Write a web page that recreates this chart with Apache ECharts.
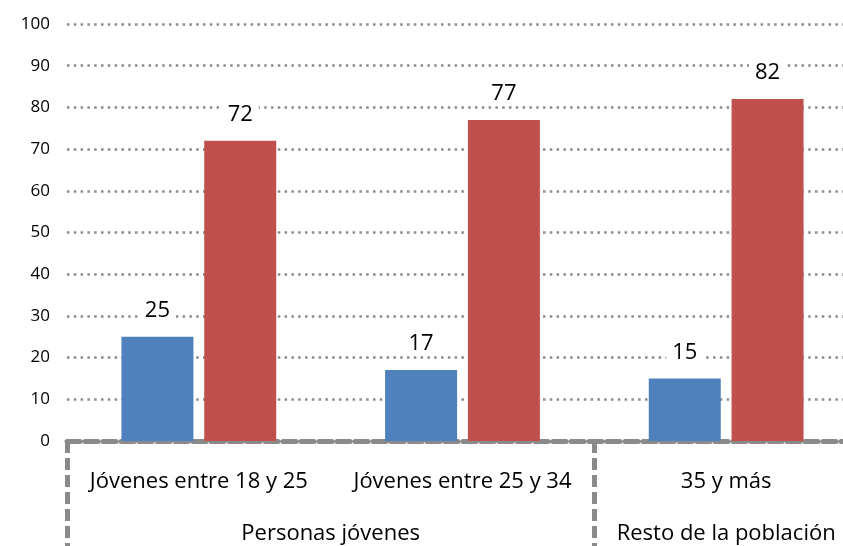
<!DOCTYPE html>
<html>
<head>
<meta charset="utf-8">
<script src="https://cdn.jsdelivr.net/npm/echarts@6/dist/echarts.min.js"></script>
<style>
  html, body { margin: 0; padding: 0; background: #fff; }
  #main { width: 843px; height: 546px; }
</style>
</head>
<body>
<div id="main"></div>
<script>
// datos
const categories = ['Jóvenes entre 18 y 25', 'Jóvenes entre 25 y 34', '35 y más']
const groups = ['', '', 'Personas jóvenes', '', '', 'Resto de la población', '']
const serieAzul = [25, 17, 15]
const serieRoja = [72, 77, 82]

const gris = '#8a8a8a'
const fuente = 'Open Sans'

const etiqueta = {
  show: true,
  position: 'top',
  distance: 15,
  fontFamily: fuente,
  fontSize: 22,
  color: '#000',
  backgroundColor: '#fff',
  padding: [0, 6]
}

let option = {
  animation: false,
  grid: {
    left: 67,
    top: 24,
    width: 791,
    height: 417,
    outerBoundsMode: 'none'
  },
  xAxis: [
    {
      type: 'category',
      data: categories,
      axisLine: { lineStyle: { color: gris, width: 5, type: [13, 5] } },
      axisTick: { show: false },
      axisLabel: {
        interval: 0,
        margin: 30,
        fontFamily: fuente,
        fontSize: 22,
        color: '#000'
      }
    },
    {
      type: 'category',
      position: 'bottom',
      boundaryGap: false,
      data: groups,
      axisLine: { show: false },
      axisTick: {
        show: true,
        inside: false,
        length: 110,
        interval: (i) => i === 0 || i === 4 || i === 6,
        lineStyle: { color: gris, width: 5, type: [12, 5] }
      },
      axisLabel: {
        interval: 0,
        margin: 82,
        fontFamily: fuente,
        fontSize: 22,
        color: '#000'
      }
    }
  ],
  yAxis: {
    type: 'value',
    min: 0,
    max: 100,
    interval: 10,
    axisLine: { show: false },
    axisTick: { show: false },
    axisLabel: { margin: 17, fontFamily: fuente, fontSize: 17, color: '#000' },
    splitLine: { lineStyle: { color: gris, width: 2.5, type: [2.5, 4.3] } }
  },
  series: [
    {
      type: 'bar',
      data: serieAzul,
      barWidth: 72,
      barGap: '15%',
      itemStyle: { color: '#4f81bd' },
      label: etiqueta
    },
    {
      type: 'bar',
      data: serieRoja,
      barWidth: 72,
      itemStyle: { color: '#c0504d' },
      label: etiqueta
    }
  ]
}

echarts.init(document.getElementById('main')).setOption(option)
</script>
</body>
</html>
